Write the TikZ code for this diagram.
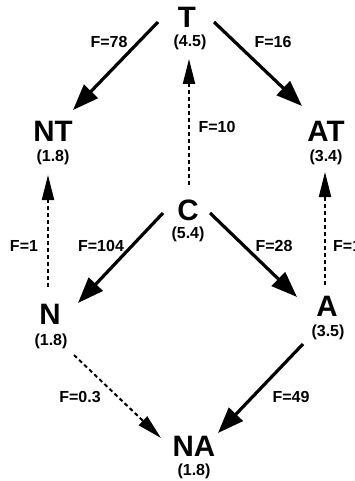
\documentclass[tikz,border=0pt]{standalone}
\usepackage{fontspec}
\setmainfont{Liberation Sans}
\usetikzlibrary{arrows.meta}
\begin{document}
\begin{tikzpicture}[x=1pt,y=-1pt,
    stname/.style={inner sep=0pt,font=\fontsize{29.5}{30}\selectfont\bfseries},
    stval/.style={inner sep=0pt,font=\fontsize{16}{17}\selectfont\bfseries},
    flab/.style={inner sep=0pt,font=\fontsize{16}{17}\selectfont\bfseries},
    bigflux/.style={line width=3.2pt,-{Triangle[length=26pt,width=19pt]}},
    smallflux/.style={line width=2pt,dash pattern=on 4pt off 3pt,
      -{Triangle[length=25pt,width=12pt]}}]
  \useasboundingbox (0,0) rectangle (355,481);

  % states and their values
  \foreach \nm/\lx/\ly/\vx/\vy/\val in {T/187/17/190/42.5/4.5,
                                        NT/53/131/53/157.5/1.8,
                                        AT/326/131/326/157.5/3.4,
                                        C/188/210/188/234.5/5.4,
                                        N/50/314/51/341.5/1.8,
                                        A/327/306/328/332.5/3.5,
                                        NA/194/446/194/471.5/1.8}
  {\node[stname] (\nm) at (\lx,\ly) {\nm};
   \node[stval] (\nm val) at (\vx,\vy) {(\val)};
  }

  % strong fluxes
  \foreach \a/\ax/\ay/\b/\bx/\by in {T/-29/5/NT/20/-21,
                                     T/27/5/AT/-24/-25,
                                     C/-25/3/N/28/-11,
                                     C/22/3/A/-30/-9,
                                     A/-24/38/NA/24/-13}
  {\draw[bigflux] ([shift={(\ax,\ay)}]\a.center) -- ([shift={(\bx,\by)}]\b.center);
  }

  % weak fluxes
  \foreach \a/\ax/\ay/\b/\bx/\by in {C/1/-25/T/2/42,
                                     N/-2/-27/NT/-5/44,
                                     A/-2/-21/AT/-1/41,
                                     N/24/41/NA/-33/-8}
  {\draw[smallflux] ([shift={(\ax,\ay)}]\a.center) -- ([shift={(\bx,\by)}]\b.center);
  }

  % flux labels
  \foreach \nm/\x/\y/\txt in {f78/109/42/F=78,
                              f16/273/42/F=16,
                              f10/217/127/F=10,
                              f1/24/246/F=1,
                              f104/101/246/F=104,
                              f28/274/246/F=28,
                              f03/80/397/F=0.3,
                              f49/291/397/F=49}
  {\node[flab] (\nm) at (\x,\y) {\txt};
  }
  \node[flab,anchor=west] (f1b) at (333,246) {F=1};
\end{tikzpicture}
\end{document}
